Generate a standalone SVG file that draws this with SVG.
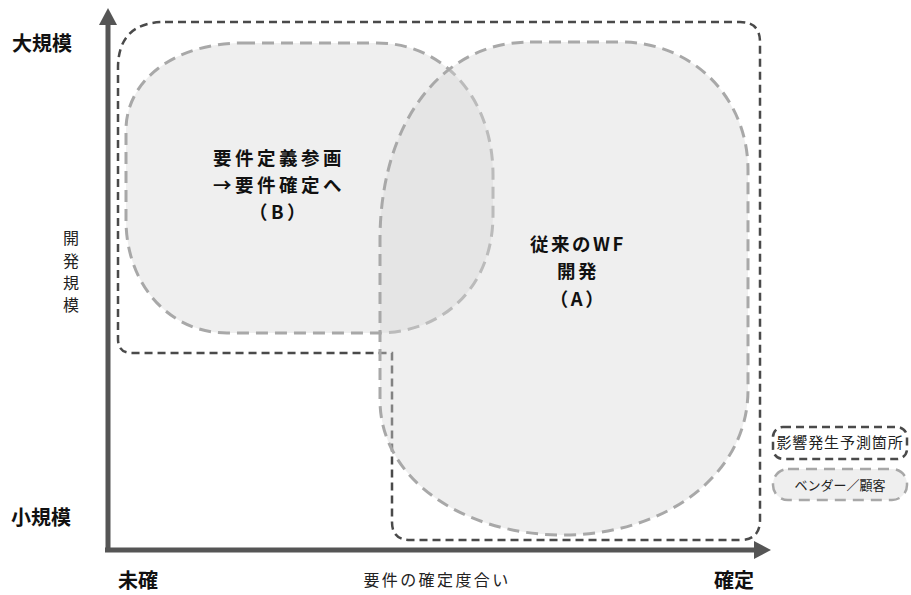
<svg xmlns="http://www.w3.org/2000/svg" width="911" height="595" viewBox="0 0 911 595">
<style>
.blob{fill:#d6d6d6;fill-opacity:0.4;stroke:#a8a8a8;stroke-width:3;stroke-dasharray:12,7}
.scope{fill:none;stroke:#4a4a4a;stroke-width:2.5;stroke-dasharray:8,5}
.axis{stroke:#555;stroke-width:5;fill:none}
.head{fill:#555}
.b{font-family:"Noto Sans CJK JP","Noto Sans",sans-serif;font-weight:bold;fill:#111}
.r{font-family:"Noto Sans CJK JP","Noto Sans",sans-serif;fill:#222}
</style>
<rect width="911" height="595" fill="#fff"/>
<g id="scope">
<path class="scope" d="M165,22 H740 Q760,22 760,42 V520 Q760,540 740,540 H410 Q392,540 392,522 V353 H132 Q118,353 118,339 V68 Q118,22 165,22 Z"/>
</g>
<g id="nodeB">
<path class="blob" d="M243,43 H377 C445,43 493,100 493,175 V215 C493,285 445,333 377,333 H227 C170,333 126,285 126,220 V130 C126,80 175,43 243,43 Z"/>
</g>
<g id="nodeA">
<path class="blob" d="M530,42 H620 C695,42 748,100 748,170 V390 C748,475 665,535 563,535 C465,535 380,480 380,400 V240 C380,125 440,42 530,42 Z"/>
</g>
<g id="axes">
<line class="axis" x1="108" y1="552" x2="108" y2="22"/>
<polygon class="head" points="108,8 99,25 117,25"/>
<line class="axis" x1="105" y1="550" x2="755" y2="550"/>
<polygon class="head" points="771,550 754,541 754,559"/>
</g>
<g id="labels">
<text class="b" x="42" y="51" font-size="20" text-anchor="middle">大規模</text>
<text class="b" x="41" y="525" font-size="20" text-anchor="middle">小規模</text>
<text class="b" x="138" y="588" font-size="20" text-anchor="middle">未確</text>
<text class="b" x="734" y="588" font-size="20" text-anchor="middle">確定</text>
<text class="r" x="437" y="586" font-size="16" letter-spacing="2.4" text-anchor="middle">要件の確定度合い</text>
<text class="r" font-size="16" text-anchor="middle"><tspan x="71" y="244">開</tspan><tspan x="71" y="267">発</tspan><tspan x="71" y="289">規</tspan><tspan x="71" y="311">模</tspan></text>
</g>
<g id="textB">
<text class="b" font-size="18.5" letter-spacing="3.5" text-anchor="middle"><tspan x="279" y="165">要件定義参画</tspan><tspan x="279" y="192">→要件確定へ</tspan><tspan x="279" y="219">（B）</tspan></text>
</g>
<g id="textA">
<text class="b" font-size="18.5" letter-spacing="2.5" text-anchor="middle"><tspan x="578" y="251">従来のWF</tspan><tspan x="578" y="278">開発</tspan><tspan x="578" y="306">（A）</tspan></text>
</g>
<g id="legend">
<rect x="773" y="427" width="134" height="32" rx="10" fill="none" stroke="#4a4a4a" stroke-width="2.5" stroke-dasharray="8,5"/>
<text class="r" x="840" y="448" font-size="15" letter-spacing="0.9" text-anchor="middle">影響発生予測箇所</text>
<rect x="773" y="469" width="134" height="31" rx="15" fill="#efefef" stroke="#a8a8a8" stroke-width="2.5" stroke-dasharray="11,7"/>
<text class="r" x="840" y="490" font-size="13" text-anchor="middle">ベンダー／顧客</text>
</g>
</svg>
